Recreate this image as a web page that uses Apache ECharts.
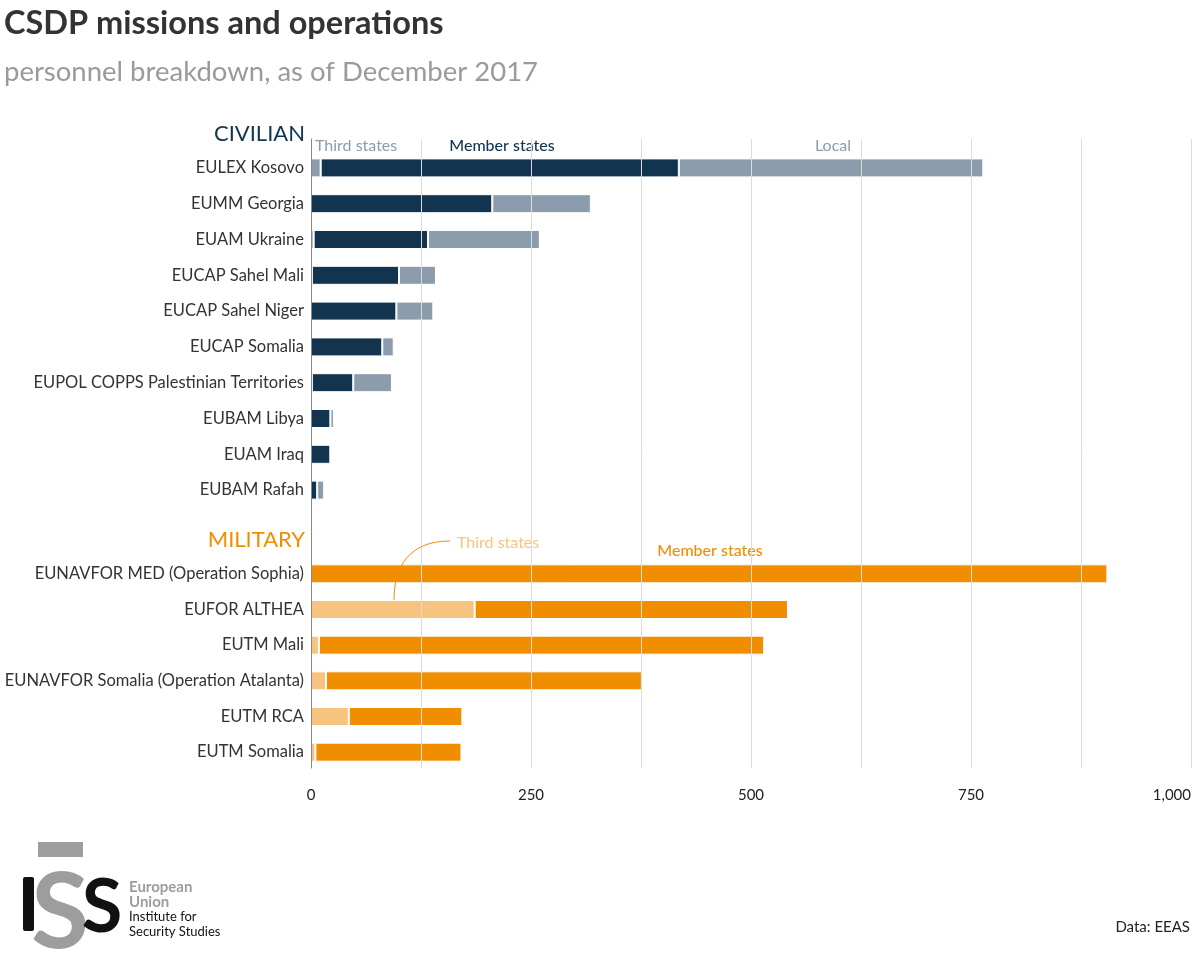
<!DOCTYPE html>
<html>
<head>
<meta charset="utf-8">
<script src="https://cdn.jsdelivr.net/npm/echarts@6/dist/echarts.min.js"></script>
<style>
  html, body { margin: 0; padding: 0; background: #fff; }
  #main { width: 1200px; height: 959px; }
</style>
</head>
<body>
<div id="main"></div>
<script>
// civilian missions
var civNames = ['EULEX Kosovo', 'EUMM Georgia', 'EUAM Ukraine', 'EUCAP Sahel Mali', 'EUCAP Sahel Niger',
  'EUCAP Somalia', 'EUPOL COPPS Palestinian Territories', 'EUBAM Libya', 'EUAM Iraq', 'EUBAM Rafah'];
var civThird  = [11, 0, 3, 1, 0, 0, 1, 0, 0, 0];
var civMember = [407, 206, 130, 99, 97, 81, 47, 22, 22, 7];
var civLocal  = [346, 112, 127, 42, 42, 13, 44, 4, 0, 8];

// military operations
var milNames = ['EUNAVFOR MED (Operation Sophia)', 'EUFOR ALTHEA', 'EUTM Mali',
  'EUNAVFOR Somalia (Operation Atalanta)', 'EUTM RCA', 'EUTM Somalia'];
var milThird  = [0, 186, 9, 17, 43, 5];
var milMember = [905, 356, 506, 359, 129, 166];

var xTicks = [0, 250, 500, 750, 1000];

var NAVY = '#12344f', GREY = '#8b9cad', ORANGE = '#f18e00', LIGHTOR = '#f7c47f';
var FONT = 'Lato, "Noto Sans", sans-serif';

var myChart = echarts.init(document.getElementById('main'));

function fmt(v) {
    if (xTicks.indexOf(v) < 0) return '';
    return String(v).replace(/\B(?=(\d{3})+(?!\d))/g, ',');
}

function bar(name, stack, xi, data, color) {
    return {
        name: name, type: 'bar', stack: stack,
        xAxisIndex: xi, yAxisIndex: xi,
        barWidth: 19,
        data: data,
        itemStyle: { color: color, borderColor: '#fff', borderWidth: 1 },
        emphasis: { disabled: true },
        z: 2
    };
}

var option = {
    backgroundColor: '#fff',
    animation: false,
    textStyle: { fontFamily: FONT },
    grid: [
        { left: 311, right: 9, top: 139, bottom: 191 },
        { left: 311, right: 9, top: 150, height: 358 },
        { left: 311, right: 9, top: 556, height: 214 }
    ],
    xAxis: [
        {
            gridIndex: 0, type: 'value', min: 0, max: 1000, interval: 125, z: 10,
            axisLine: { show: false }, axisTick: { show: false },
            splitLine: { show: true, lineStyle: { color: '#dcdcdc', width: 1 } },
            axisLabel: { formatter: fmt, color: '#222', fontSize: 15, margin: 20, alignMaxLabel: 'right' }
        },
        { gridIndex: 1, type: 'value', min: 0, max: 1000, show: false },
        { gridIndex: 2, type: 'value', min: 0, max: 1000, show: false }
    ],
    yAxis: [
        {
            gridIndex: 0, type: 'category', data: [''], z: 11,
            axisLine: { show: true, lineStyle: { color: '#8a8a8a', width: 1 } },
            axisTick: { show: false }, axisLabel: { show: false }, splitLine: { show: false }
        },
        {
            gridIndex: 1, type: 'category', data: civNames, inverse: true,
            axisLine: { show: false }, axisTick: { show: false },
            axisLabel: { color: '#333', fontSize: 16.5, margin: 7 }
        },
        {
            gridIndex: 2, type: 'category', data: milNames, inverse: true,
            axisLine: { show: false }, axisTick: { show: false },
            axisLabel: { color: '#333', fontSize: 16.5, margin: 7 }
        }
    ],
    series: [
        bar('Third states', 'civ', 1, civThird, GREY),
        bar('Member states', 'civ', 1, civMember, NAVY),
        bar('Local', 'civ', 1, civLocal, GREY),
        bar('Third states', 'mil', 2, milThird, LIGHTOR),
        bar('Member states', 'mil', 2, milMember, ORANGE)
    ],
    graphic: [
        { type: 'text', left: 4, top: 7, style: { text: 'CSDP missions and operations', font: 'bold 32.5px ' + FONT, fill: '#333' } },
        { type: 'text', left: 4, top: 58, style: { text: 'personnel breakdown, as of December 2017', font: '27.5px ' + FONT, fill: '#9a9a9a' } },

        { type: 'text', x: 305, y: 134, style: { text: 'CIVILIAN', font: '22px ' + FONT, fill: NAVY, align: 'right', verticalAlign: 'middle' } },
        { type: 'text', x: 305, y: 540, style: { text: 'MILITARY', font: '22px ' + FONT, fill: ORANGE, align: 'right', verticalAlign: 'middle' } },

        { type: 'text', x: 315, y: 146, style: { text: 'Third states', font: '16px ' + FONT, fill: GREY, verticalAlign: 'middle' } },
        { type: 'text', x: 502, y: 146, style: { text: 'Member states', font: '500 16px ' + FONT, fill: NAVY, align: 'center', verticalAlign: 'middle' } },
        { type: 'text', x: 833, y: 146, style: { text: 'Local', font: '16px ' + FONT, fill: GREY, align: 'center', verticalAlign: 'middle' } },

        { type: 'text', x: 457, y: 543, style: { text: 'Third states', font: '16px ' + FONT, fill: LIGHTOR, verticalAlign: 'middle' } },
        { type: 'text', x: 710, y: 551, style: { text: 'Member states', font: '500 16px ' + FONT, fill: ORANGE, align: 'center', verticalAlign: 'middle' } },
        {
            type: 'bezierCurve', z: 20,
            shape: { x1: 450, y1: 541, cpx1: 408, cpy1: 541, cpx2: 394, cpy2: 568, x2: 394, y2: 600 },
            style: { stroke: ORANGE, lineWidth: 1, fill: null }
        },

        { type: 'text', x: 1190, y: 927, style: { text: 'Data: EEAS', font: '15px ' + FONT, fill: '#222', align: 'right', verticalAlign: 'middle' } },

        // ISS logo
        { type: 'rect', shape: { x: 38, y: 842, width: 45, height: 15 }, style: { fill: '#9d9d9d' } },
        { type: 'rect', shape: { x: 23, y: 877, width: 11, height: 54, r: 2 }, style: { fill: '#111' } },
        { type: 'text', x: 60, y: 967, style: { text: 'S', font: 'bold 106px ' + FONT, fill: '#9d9d9d', align: 'center', verticalAlign: 'bottom' } },
        { type: 'text', x: 102, y: 945, style: { text: 'S', font: 'bold 74px ' + FONT, fill: '#111', align: 'center', verticalAlign: 'bottom' } },
        { type: 'text', x: 129, y: 887, style: { text: 'European', font: 'bold 15px ' + FONT, fill: '#9d9d9d', verticalAlign: 'middle' } },
        { type: 'text', x: 129, y: 902, style: { text: 'Union', font: 'bold 15px ' + FONT, fill: '#9d9d9d', verticalAlign: 'middle' } },
        { type: 'text', x: 129, y: 917, style: { text: 'Institute for', font: '13px ' + FONT, fill: '#111', verticalAlign: 'middle' } },
        { type: 'text', x: 129, y: 932, style: { text: 'Security Studies', font: '13px ' + FONT, fill: '#111', verticalAlign: 'middle' } }
    ]
};

myChart.setOption(option);
</script>
</body>
</html>
